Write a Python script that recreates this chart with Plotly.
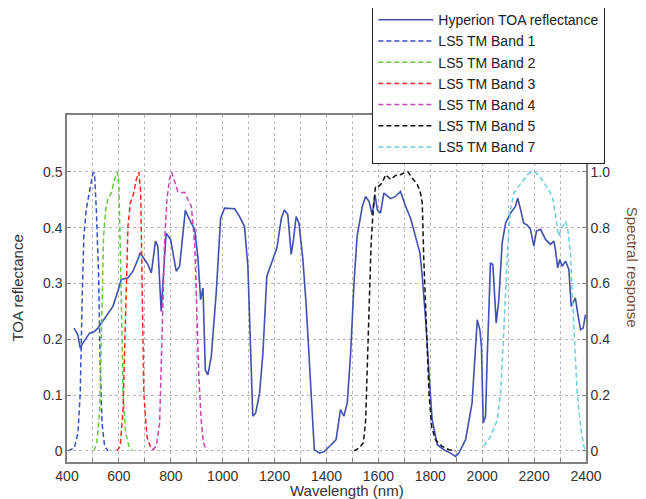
import plotly.graph_objects as go

# Hyperion TOA reflectance (left axis)
hyp_wl = [427, 442, 451, 461, 487, 506, 519, 551, 577, 596, 609, 635, 654, 673, 682, 699, 712,
          725, 741, 750, 763, 772, 782, 799, 821, 834, 856, 879, 892, 904, 915, 924, 933, 943,
          956, 975, 992, 1007, 1046, 1065, 1084, 1097, 1116, 1127, 1142, 1155, 1170, 1193, 1209,
          1226, 1238, 1251, 1264, 1273, 1283, 1294, 1309, 1322, 1341, 1353, 1373, 1392, 1418,
          1437, 1454, 1467, 1480, 1493, 1506, 1518, 1538, 1551, 1564, 1576, 1587, 1596, 1608,
          1621, 1647, 1666, 1685, 1705, 1724, 1743, 1760, 1769, 1782, 1795, 1807, 1827, 1852,
          1878, 1897, 1910, 1936, 1961, 1974, 1981, 1991, 1997, 2004, 2013, 2019, 2032, 2041,
          2054, 2064, 2077, 2090, 2109, 2128, 2137, 2148, 2160, 2173, 2186, 2199, 2209, 2225,
          2244, 2263, 2276, 2282, 2291, 2299, 2308, 2321, 2334, 2343, 2350, 2359, 2368, 2379,
          2389, 2398]
hyp_refl = [0.220, 0.208, 0.184, 0.193, 0.211, 0.214, 0.220, 0.241, 0.259, 0.286, 0.307, 0.310,
            0.322, 0.343, 0.355, 0.343, 0.334, 0.319, 0.376, 0.367, 0.250, 0.319, 0.390, 0.379,
            0.322, 0.331, 0.431, 0.408, 0.397, 0.349, 0.271, 0.292, 0.145, 0.136, 0.169, 0.283,
            0.417, 0.435, 0.434, 0.420, 0.402, 0.331, 0.062, 0.068, 0.103, 0.175, 0.313, 0.343,
            0.364, 0.417, 0.432, 0.423, 0.352, 0.379, 0.420, 0.408, 0.343, 0.259, 0.103, 0.002,
            -0.004, -0.001, 0.011, 0.020, 0.074, 0.062, 0.086, 0.175, 0.301, 0.385, 0.438, 0.456,
            0.447, 0.423, 0.459, 0.432, 0.426, 0.462, 0.452, 0.456, 0.465, 0.438, 0.417, 0.385,
            0.355, 0.313, 0.235, 0.139, 0.056, 0.011, 0.002, -0.004, -0.010, -0.004, 0.020, 0.086,
            0.187, 0.235, 0.217, 0.187, 0.050, 0.062, 0.163, 0.337, 0.334, 0.229, 0.271, 0.373,
            0.408, 0.426, 0.438, 0.453, 0.432, 0.408, 0.405, 0.397, 0.367, 0.394, 0.397, 0.379,
            0.370, 0.376, 0.361, 0.328, 0.343, 0.331, 0.340, 0.325, 0.259, 0.265, 0.274, 0.247,
            0.217, 0.220, 0.244]

# Landsat 5 TM spectral response (right axis)
b1_wl = [404, 428, 442, 451, 459, 465, 474, 487, 500, 506, 513, 522, 528, 535, 545, 558]
b1_resp = [0, 0.01, 0.063, 0.207, 0.566, 0.77, 0.865, 0.937, 0.996, 0.996, 0.865, 0.626, 0.303,
           0.099, 0.016, 0]
b2_wl = [504, 515, 526, 532, 541, 549, 558, 571, 583, 594, 600, 607, 616, 626, 639, 652]
b2_resp = [0, 0.028, 0.147, 0.446, 0.769, 0.865, 0.903, 0.925, 0.973, 0.999, 0.949, 0.65, 0.207,
           0.063, 0.016, 0]
b3_wl = [592, 605, 616, 626, 635, 644, 654, 667, 677, 684, 690, 696, 708, 722, 737]
b3_resp = [0, 0.016, 0.147, 0.506, 0.805, 0.889, 0.913, 0.973, 0.999, 0.925, 0.566, 0.207, 0.051,
           0.013, 0.004]
b4_wl = [728, 744, 757, 766, 776, 785, 795, 803, 815, 827, 840, 853, 866, 879, 892, 901, 908,
         917, 926, 937]
b4_resp = [0.004, 0.016, 0.099, 0.386, 0.745, 0.901, 0.973, 0.999, 0.961, 0.931, 0.925, 0.927,
           0.901, 0.877, 0.745, 0.506, 0.267, 0.111, 0.028, 0.004]
b5_wl = [1506, 1525, 1542, 1551, 1560, 1567, 1572, 1580, 1589, 1602, 1615, 1628, 1647, 1666,
         1685, 1698, 1714, 1730, 1750, 1762, 1769, 1775, 1786, 1795, 1805, 1820, 1846, 1872, 1897]
b5_resp = [0, 0.01, 0.028, 0.111, 0.386, 0.566, 0.745, 0.865, 0.949, 0.949, 0.961, 0.99, 0.973,
           0.987, 0.99, 0.996, 1.0, 0.978, 0.955, 0.925, 0.889, 0.685, 0.446, 0.207, 0.087, 0.039,
           0.016, 0.004, 0]
b7_wl = [2006, 2032, 2058, 2071, 2081, 2090, 2099, 2109, 2122, 2141, 2160, 2180, 2199, 2218, 2238,
         2257, 2273, 2282, 2295, 2304, 2321, 2330, 2340, 2347, 2356, 2366, 2379, 2392, 2398]
b7_resp = [0.016, 0.051, 0.111, 0.207, 0.386, 0.566, 0.745, 0.865, 0.925, 0.949, 0.973, 0.996,
           1.0, 0.99, 0.961, 0.937, 0.901, 0.853, 0.769, 0.793, 0.823, 0.793, 0.709, 0.566, 0.374,
           0.207, 0.087, 0.016, 0]

x_ticks = list(range(400, 2401, 100))
x_labels = [str(v) if v % 200 == 0 else "" for v in x_ticks]

FONT = "Liberation Sans, Arial, sans-serif"

bands = [
    ("LS5 TM Band 1", b1_wl, b1_resp, "#3550c0"),
    ("LS5 TM Band 2", b2_wl, b2_resp, "#66c83a"),
    ("LS5 TM Band 3", b3_wl, b3_resp, "#ff2525"),
    ("LS5 TM Band 4", b4_wl, b4_resp, "#c845b0"),
    ("LS5 TM Band 5", b5_wl, b5_resp, "#111111"),
    ("LS5 TM Band 7", b7_wl, b7_resp, "#6ccfe0"),
]

fig = go.Figure()

for name, wl, resp, col in bands:
    fig.add_trace(go.Scatter(x=wl, y=resp, mode="lines", name=name, yaxis="y2",
                             line=dict(color=col, width=1.5, dash="5px,3px"),
                             legendrank=2))

fig.add_trace(go.Scatter(x=hyp_wl, y=hyp_refl, mode="lines", name="Hyperion TOA reflectance",
                         line=dict(color="#3f50b0", width=1.6), legendrank=1))

grid = dict(showgrid=True, gridcolor="#b8b8b8", griddash="dot", gridwidth=1, zeroline=False)

# page body has an 8px margin, so the figure is 8px smaller and margins are shifted
fig.update_layout(
    width=638, height=491,
    margin=dict(l=59, r=60, t=107, b=37, autoexpand=False),
    plot_bgcolor="white", paper_bgcolor="white",
    font=dict(family=FONT, size=14, color="#333333"),
    xaxis=dict(range=[400, 2400], tickvals=x_ticks, ticktext=x_labels, automargin=False,
               ticks="inside", ticklen=4, tickcolor="#808080",
               showline=True, linecolor="#808080", linewidth=1.5, mirror=True, **grid),
    yaxis=dict(range=[-0.02, 0.602], tickvals=[0, 0.1, 0.2, 0.3, 0.4, 0.5],
               ticktext=["0", "0.1", "0.2", "0.3", "0.4", "0.5"], automargin=False,
               ticks="inside", ticklen=4, tickcolor="#808080",
               showline=True, linecolor="#808080", linewidth=1.5, mirror=True, **grid),
    yaxis2=dict(range=[-0.04, 1.204], overlaying="y", side="right", automargin=False,
                tickvals=[0, 0.2, 0.4, 0.6, 0.8, 1.0],
                ticktext=["0", "0.2", "0.4", "0.6", "0.8", "1.0"],
                ticks="inside", ticklen=4, tickcolor="#808080",
                showgrid=False, zeroline=False, showline=True, linecolor="#808080",
                linewidth=1.5),
    legend=dict(x=0.588, y=1.3228, xanchor="left", yanchor="top",
                bgcolor="white", bordercolor="#222222", borderwidth=1.2,
                font=dict(family=FONT, size=14, color="#222222"),
                itemwidth=55, tracegroupgap=0),
    showlegend=True,
    annotations=[
        dict(text="Wavelength (nm)", x=0.54, y=-0.083, xref="paper", yref="paper",
             xanchor="center", yanchor="middle", showarrow=False,
             font=dict(size=15, color="#333333")),
        dict(text="TOA reflectance", x=-0.0963, y=0.5, xref="paper", yref="paper",
             xanchor="center", yanchor="middle", showarrow=False, textangle=-90,
             font=dict(size=15, color="#333333")),
        dict(text="Spectral response", x=1.0886, y=0.56, xref="paper", yref="paper",
             xanchor="center", yanchor="middle", showarrow=False, textangle=90,
             font=dict(size=15, color="#7a4a3a")),
    ],
)

fig.write_html("out.html")
